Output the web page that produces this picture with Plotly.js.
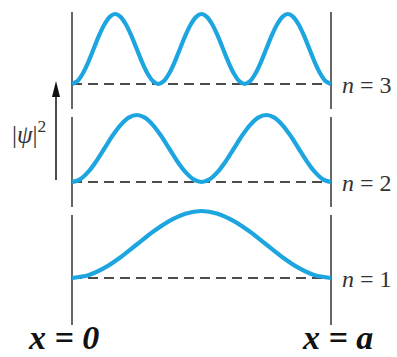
<!DOCTYPE html>
<html><head><meta charset="utf-8">
<script src="https://cdn.plot.ly/plotly-3.0.1.min.js"></script>
<style>html,body{margin:0;padding:0;background:#fff}#chart{width:397px;height:357px}</style>
</head><body><div id="chart"></div>
<script>
const psiN1 = [0, 0.04, 0.15, 0.31, 0.5, 0.69, 0.85, 0.96, 1, 0.96, 0.85, 0.69, 0.5, 0.31, 0.15, 0.04, 0];
const psiN2 = [0, 0.04, 0.15, 0.31, 0.5, 0.69, 0.85, 0.96, 1, 0.96, 0.85, 0.69, 0.5, 0.31, 0.15, 0.04,
               0, 0.04, 0.15, 0.31, 0.5, 0.69, 0.85, 0.96, 1, 0.96, 0.85, 0.69, 0.5, 0.31, 0.15, 0.04, 0];
const psiN3 = [0, 0.04, 0.15, 0.31, 0.5, 0.69, 0.85, 0.96, 1, 0.96, 0.85, 0.69, 0.5, 0.31, 0.15, 0.04,
               0, 0.04, 0.15, 0.31, 0.5, 0.69, 0.85, 0.96, 1, 0.96, 0.85, 0.69, 0.5, 0.31, 0.15, 0.04,
               0, 0.04, 0.15, 0.31, 0.5, 0.69, 0.85, 0.96, 1, 0.96, 0.85, 0.69, 0.5, 0.31, 0.15, 0.04, 0];
const stateLabels = ['n = 1', 'n = 2', 'n = 3'];
const wallLabels = ['x = 0', 'x = a'];
const yLabelSymbol = 'ψ';

// sample positions along the well, as a fraction of a (x = 0 ... x = a)
const xOf = arr => arr.map((_, i) => i / (arr.length - 1));

const W = 397, H = 357;
const CURVE = 'rgb(28,165,222)';
const INK = '#333';
const px2py = p => (H - p) / H;           // pixel row -> paper y
const px2x = p => p / W;                  // pixel col -> paper x
// x axis: x=0 at px 72, x=a at px 331
const xL = 72, xR = 331, u = xR - xL;
const xRange = [-xL / u, (W - xL) / u];
// panel geometry in pixels: domain top, bottom, baseline, peak
const panels = [
  {top: 190, bot: 357, base: 278, peak: 211},
  {top: 106, bot: 211, base: 182, peak: 115},
  {top: 0,   bot: 113, base: 84,  peak: 14}
];
function yr(p) { const s = p.base - p.peak; return [-(p.bot - p.base) / s, 1 + (p.peak - p.top) / s]; }
function dom(p) { return [px2py(p.bot), px2py(p.top)]; }

const ys = [psiN1, psiN2, psiN3];
const traces = ys.map((y, i) => ({
  x: xOf(y), y: y, xaxis: 'x', yaxis: i === 0 ? 'y' : 'y' + (i + 1),
  mode: 'lines', line: {color: CURVE, width: 4.2, shape: 'spline', smoothing: 0.8},
  hoverinfo: 'skip', showlegend: false
}));

const hidden = {showgrid: false, zeroline: false, showticklabels: false, ticks: '', showline: false, fixedrange: true};
const layout = {
  width: W, height: H, margin: {l: 0, r: 0, t: 0, b: 0},
  paper_bgcolor: '#fff', plot_bgcolor: 'rgba(0,0,0,0)', showlegend: false,
  xaxis: Object.assign({range: xRange, domain: [0, 1]}, hidden),
  yaxis: Object.assign({range: yr(panels[0]), domain: dom(panels[0]), anchor: 'x'}, hidden),
  yaxis2: Object.assign({range: yr(panels[1]), domain: dom(panels[1]), anchor: 'x'}, hidden),
  yaxis3: Object.assign({range: yr(panels[2]), domain: dom(panels[2]), anchor: 'x'}, hidden),
  shapes: [], annotations: []
};
// walls, broken into three segments
const segs = [[12, 109], [117, 207], [215, 325]];
[0, 1].forEach(xv => segs.forEach(s => layout.shapes.push({
  type: 'line', xref: 'x', yref: 'paper', x0: xv, x1: xv, y0: px2py(s[1]), y1: px2py(s[0]),
  line: {color: INK, width: 1.5}, layer: 'below'
})));
// dashed baselines
['y', 'y2', 'y3'].forEach(r => layout.shapes.push({
  type: 'line', xref: 'x', yref: r, x0: 0, x1: 1, y0: 0, y1: 0,
  line: {color: '#111', width: 1.5, dash: '10px,6px'}, layer: 'below'
}));
// |psi|^2 arrow: shaft + filled head
const ax = 56;
layout.shapes.push({type: 'line', xref: 'paper', yref: 'paper', x0: px2x(ax), x1: px2x(ax),
  y0: px2py(180), y1: px2py(94), line: {color: '#111', width: 1.5}});
layout.shapes.push({type: 'path', xref: 'paper', yref: 'paper',
  path: 'M ' + px2x(ax) + ' ' + px2py(81) + ' L ' + px2x(ax - 4) + ' ' + px2py(97) +
        ' L ' + px2x(ax + 4) + ' ' + px2py(97) + ' Z',
  fillcolor: '#111', line: {width: 0}});
// state labels
const serif = '"Liberation Serif", "DejaVu Serif", serif';
stateLabels.forEach((t, i) => {
  const parts = t.split(' = ');
  layout.annotations.push({
    xref: 'paper', yref: 'paper', x: px2x(340), y: px2py(panels[i].base + 1),
    xanchor: 'left', yanchor: 'middle', showarrow: false,
    text: '<i>' + parts[0] + '</i> = ' + parts[1],
    font: {family: serif, size: 24, color: INK}
  });
});
// y label
layout.annotations.push({
  xref: 'paper', yref: 'paper', x: px2x(29), y: px2py(132), xanchor: 'center', yanchor: 'middle',
  showarrow: false, text: '|<i>' + yLabelSymbol + '</i>|<sup>2</sup>',
  font: {family: serif, size: 25, color: INK}
});
// wall labels
[[63, wallLabels[0]], [337, wallLabels[1]]].forEach(([p, t]) => layout.annotations.push({
  xref: 'paper', yref: 'paper', x: px2x(p), y: 0, xanchor: 'center', yanchor: 'bottom',
  showarrow: false, text: '<b><i>' + t + '</i></b>', borderpad: 0,
  font: {family: serif, size: 34, color: '#111'}
}));

Plotly.newPlot('chart', traces, layout, {displayModeBar: false, staticPlot: true});
</script></body></html>
